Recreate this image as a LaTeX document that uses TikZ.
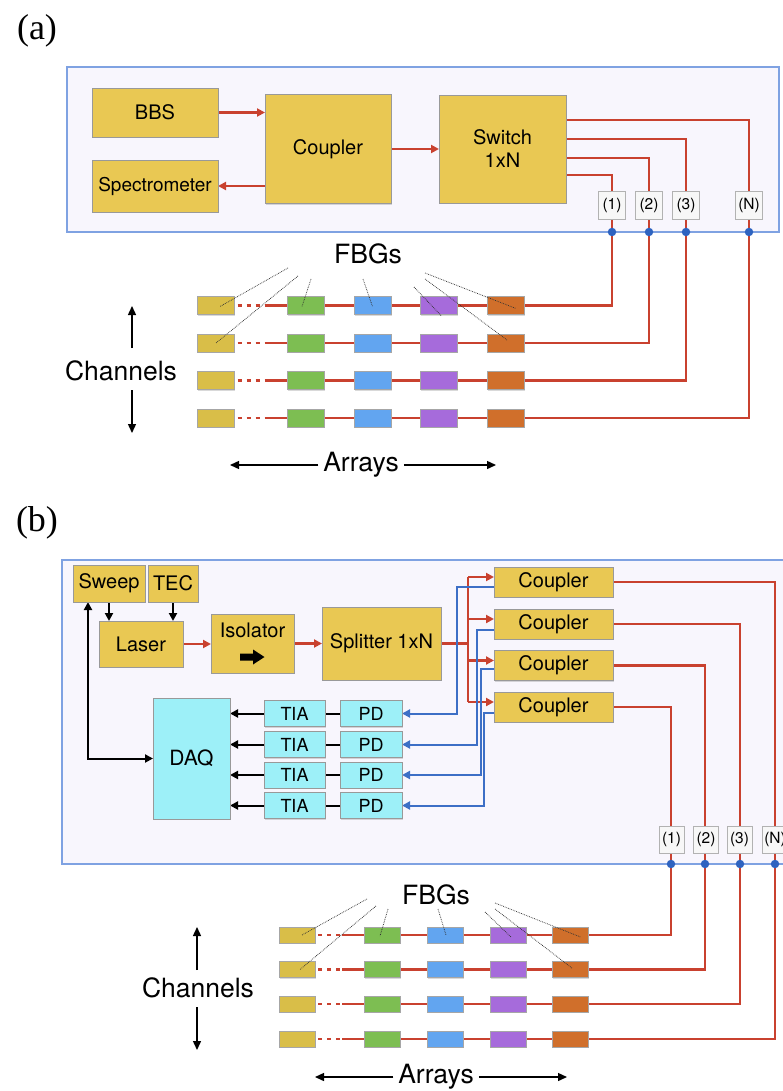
\documentclass[tikz,border=0pt]{standalone}
\usepackage{fontspec}
\setmainfont{TeX Gyre Heros}
\newfontfamily\timesf{Liberation Serif}
\usetikzlibrary{arrows.meta,shadows}
\definecolor{boxy}{HTML}{E9C853}
\definecolor{fy}{HTML}{D9BE48}
\definecolor{fg}{HTML}{7DBE52}
\definecolor{fb}{HTML}{62A5F0}
\definecolor{fp}{HTML}{A66BDB}
\definecolor{fo}{HTML}{D06F2B}
\definecolor{boxc}{HTML}{9DF0F8}
\definecolor{redl}{HTML}{C9412F}
\definecolor{bluel}{HTML}{3D6FC6}
\definecolor{framec}{HTML}{7FA2E2}
\definecolor{framef}{HTML}{F8F6FD}
\definecolor{dotc}{HTML}{2E63C0}
\pgfdeclarelayer{back}
\pgfdeclarelayer{mid}
\pgfsetlayers{back,mid,main}
\begin{document}
\begin{tikzpicture}[x=1pt,y=-1pt,
  every node/.style={inner sep=0pt, outer sep=0pt},
  ybox/.style={draw=black!40, line width=0.5pt, fill=boxy, align=center,
    font=\fontsize{20}{23}\selectfont,
    drop shadow={shadow xshift=1pt,shadow yshift=-1.2pt,opacity=0.3}},
  cbox/.style={ybox, fill=boxc},
  fbg/.style={draw=black!35, line width=0.5pt, minimum width=37pt, minimum height=18pt,
    drop shadow={shadow xshift=0.8pt,shadow yshift=-1pt,opacity=0.3}},
  port/.style={draw=black!30, fill=black!3, line width=0.6pt, font=\fontsize{15.5}{17}\selectfont},
  pdot/.style={circle, fill=dotc, minimum size=8.5pt},
  frm/.style={draw=framec, fill=framef, line width=1.6pt},
  tip/.style={-{Triangle[length=8pt,width=8pt]}},
  rl/.style={draw=redl, line width=2.3pt},
  ra/.style={rl, tip},
  bl/.style={draw=bluel, line width=2pt},
  ba/.style={bl, tip},
  kl/.style={draw=black, line width=2pt},
  ka/.style={kl, tip},
  tarr/.style={draw=black, line width=1.4pt, -{Triangle[length=9pt,width=8pt]}},
  leader/.style={densely dotted, line width=0.75pt, black!80},
  big/.style={font=\fontsize{26.5}{30}\selectfont},
  panel/.style={font=\timesf\fontsize{36}{40}\selectfont}
]
\useasboundingbox (0,0) rectangle (783,1091);
\clip (0,0) rectangle (783,1091);

% ================= panel (a) =================
\node[panel] (la) at (37,31) {(a)};
\begin{pgfonlayer}{back}
\node[frm, minimum width=712pt, minimum height=165pt] (fa) at (423,149.5) {};
\end{pgfonlayer}
\node[ybox, minimum width=126pt, minimum height=49pt] (bbs) at (155,112.5) {BBS};
\node[ybox, minimum width=126pt, minimum height=52pt, font=\fontsize{19}{22}\selectfont] (spec) at (155,186) {Spectrometer};
\node[ybox, minimum width=126pt, minimum height=109pt] (cpl) at (328,149) {Coupler};
\node[ybox, minimum width=127pt, minimum height=108pt] (sw) at (502.5,149) {Switch\\1xN};

\foreach \i/\xx/\tt in {1/612/(1),2/649/(2),3/686/(3),4/749/(N)}{
  \node[port, minimum width=27pt, minimum height=28pt] (ap\i) at (\xx,205) {\tt};
  \node[pdot] (ad\i) at (\xx,232) {};
}

\foreach \r/\yy in {1/305.5,2/343,3/380.5,4/418}{
  \node[fbg, fill=fy] (ay\r) at (216,\yy) {};
  \node[fbg, fill=fg] (ag\r) at (306,\yy) {};
  \node[fbg, fill=fb] (ab\r) at (372.5,\yy) {};
  \node[fbg, fill=fp] (apu\r) at (439,\yy) {};
  \node[fbg, fill=fo] (ao\r) at (506,\yy) {};
  \coordinate (adash\r) at (267,\yy);
}

\begin{pgfonlayer}{mid}
\draw[ra] (bbs.east) -- (bbs.east -| cpl.west);
\draw[ra] (cpl.east) -- (cpl.east -| sw.west);
\draw[ra] (cpl.west |- spec.east) -- (spec.east);
\draw[rl] ([yshift=-26pt]sw.east) -| (ad1.center) |- (ao1.east);
\draw[rl] ([yshift=-9pt]sw.east) -| (ad2.center) |- (ao2.east);
\draw[rl] ([yshift=10pt]sw.east) -| (ad3.center) |- (ao3.east);
\draw[rl] ([yshift=29pt]sw.east) -| (ad4.center) |- (ao4.east);
\foreach \r in {1,2,3,4}{
  \draw[rl, dash pattern=on 4pt off 5pt] ([xshift=3pt]ay\r.east) -- (adash\r);
  \draw[rl] (adash\r) -- (ag\r.west);
  \draw[rl] (ag\r.east) -- (ab\r.west);
  \draw[rl] (ab\r.east) -- (apu\r.west);
  \draw[rl] (apu\r.east) -- (ao\r.west);
}
\end{pgfonlayer}

\node[big] (fbga) at (368,254) {FBGs};
\coordinate (la1) at (288,268);
\coordinate (la2) at (298,276);
\coordinate (la3) at (311,279);
\coordinate (la4) at (363,279);
\coordinate (la5) at (414,287);
\coordinate (la6) at (425,273);
\coordinate (la7) at (425,279);
\draw[leader] (la1) -- ([xshift=4pt,yshift=-1pt]ay1.center);
\draw[leader] (la2) -- (ay2.center);
\draw[leader] (la3) -- ([xshift=-4pt,yshift=-1pt]ag1.center);
\draw[leader] (la4) -- ([yshift=-1pt]ab1.center);
\draw[leader] (la5) -- ([xshift=2pt,yshift=-10pt]apu1.center);
\draw[leader] (la6) -- ([xshift=10pt,yshift=-3pt]ao1.center);
\draw[leader] (la7) -- ([xshift=1pt,yshift=3pt]ao2.center);

\node[big] (cha) at (121,371) {Channels};
\draw[tarr] ([xshift=11pt]cha.center) ++(0,-23) -- ++(0,-42);
\draw[tarr] ([xshift=11pt]cha.center) ++(0,19) -- ++(0,43);
\node[big] (arra) at (361,465) {Arrays};
\draw[tarr] (arra.west) ++(-5,0) -- (230,465);
\draw[tarr] (arra.east) ++(5,0) -- (496,465);

% ================= panel (b) =================
\node[panel] (lb) at (37,523) {(b)};
\begin{pgfonlayer}{back}
\node[frm, minimum width=738pt, minimum height=304pt] (fb) at (431,712) {};
\end{pgfonlayer}
\node[ybox, minimum width=72pt, minimum height=37pt] (swp) at (109,583.5) {Sweep};
\node[ybox, minimum width=50pt, minimum height=37pt] (tec) at (173,583.5) {TEC};
\node[ybox, minimum width=84pt, minimum height=46pt] (las) at (141,644) {Laser};
\node[ybox, minimum width=83pt, minimum height=59pt] (iso) at (252.5,643.5) {};
\node[font=\fontsize{20}{23}\selectfont] (isot) at (252.5,630) {Isolator};
\fill[black] (240,653.5) -- (253,653.5) -- (253,649.5) -- (264.5,657) -- (253,664.5)
  -- (253,660.5) -- (240,660.5) -- cycle;
\node[ybox, minimum width=119pt, minimum height=73pt] (spl) at (381.5,643.5) {Splitter 1xN};
\foreach \i/\yy in {1/582,2/624,3/665.5,4/707}{
  \node[ybox, minimum width=119pt, minimum height=30pt] (c\i) at (553.5,\yy) {Coupler};
  \coordinate (cin\i) at ([yshift=5pt]c\i.west);
}
\node[cbox, minimum width=77pt, minimum height=121pt, font=\fontsize{21}{24}\selectfont] (daq) at (191.5,758.5) {DAQ};
\foreach \i/\yy in {1/713.5,2/744.5,3/775,4/805.5}{
  \node[cbox, minimum width=61pt, minimum height=26pt, font=\fontsize{18}{20}\selectfont] (tia\i) at (294.5,\yy) {TIA};
  \node[cbox, minimum width=62pt, minimum height=26pt, font=\fontsize{18}{20}\selectfont] (pd\i) at (371,\yy) {PD};
}
\coordinate (jx) at (468,643.5);
\coordinate (bv1) at (457,713.5);
\coordinate (bv2) at (477,744.5);
\coordinate (bv3) at (481,775);
\coordinate (bv4) at (484,805.5);

\foreach \i/\xx/\tt in {1/671.5/(1),2/706/(2),3/739.5/(3),4/775/(N)}{
  \node[port, minimum width=25pt, minimum height=27pt] (bp\i) at (\xx,839.5) {\tt};
}
\foreach \i/\xx in {1/671,2/705,3/740,4/775}{
  \node[pdot] (bd\i) at (\xx,864) {};
}
\foreach \r/\yy in {1/935,2/969.5,3/1004,4/1039}{
  \node[fbg, fill=fy, minimum width=36pt, minimum height=16pt] (by\r) at (297,\yy) {};
  \node[fbg, fill=fg, minimum width=36pt, minimum height=16pt] (bg\r) at (382,\yy) {};
  \node[fbg, fill=fb, minimum width=36pt, minimum height=16pt] (bb\r) at (445,\yy) {};
  \node[fbg, fill=fp, minimum width=36pt, minimum height=16pt] (bpu\r) at (508,\yy) {};
  \node[fbg, fill=fo, minimum width=36pt, minimum height=16pt] (bo\r) at (570.5,\yy) {};
  \coordinate (bdash\r) at (342,\yy);
}

\begin{pgfonlayer}{mid}
\draw[ka] (swp.south) -- (swp.south |- las.north);
\draw[ka] (tec.south) -- (tec.south |- las.north);
\draw[kl, {Triangle[length=8pt,width=8pt]}-{Triangle[length=8pt,width=8pt]}]
  ([xshift=-21pt]swp.south) |- (daq.west);
\draw[ra] (las.east) -- (las.east -| iso.west);
\draw[ra] (iso.east) -- (iso.east -| spl.west);
\draw[rl] (spl.east) -- (jx);
\draw[rl] (cin1 -| jx) -- (cin4 -| jx);
\foreach \i in {1,2,3,4}{
  \draw[ra] (cin\i -| jx) -- (cin\i);
  \draw[ka] (tia\i.west) -- (tia\i.west -| daq.east);
  \draw[kl] (tia\i.east) -- (pd\i.west);
}
\draw[ba] ([yshift=-5pt]c1.west) -| (bv1) -- (pd1.east);
\draw[ba] ([yshift=-6pt]c2.west) -| (bv2) -- (pd2.east);
\draw[ba] ([yshift=-3pt]c3.west) -| (bv3) -- (pd3.east);
\draw[ba] ([yshift=-6pt]c4.west) -| (bv4) -- (pd4.east);
\draw[rl] (c1.east) -| (bd4.center) |- (bo4.east);
\draw[rl] (c2.east) -| (bd3.center) |- (bo3.east);
\draw[rl] (c3.east) -| (bd2.center) |- (bo2.east);
\draw[rl] (c4.east) -| (bd1.center) |- (bo1.east);
\foreach \r in {1,2,3,4}{
  \draw[rl, dash pattern=on 4pt off 5pt] ([xshift=3pt]by\r.east) -- (bdash\r);
  \draw[rl] (bdash\r) -- (bg\r.west);
  \draw[rl] (bg\r.east) -- (bb\r.west);
  \draw[rl] (bb\r.east) -- (bpu\r.west);
  \draw[rl] (bpu\r.east) -- (bo\r.west);
}
\end{pgfonlayer}

\node[big] (fbgb) at (436,895) {FBGs};
\coordinate (lb1) at (367,899);
\coordinate (lb2) at (376,906);
\coordinate (lb3) at (388,909);
\coordinate (lb4) at (438,909);
\coordinate (lb5) at (485,912);
\coordinate (lb6) at (495,903);
\coordinate (lb7) at (495,909);
\draw[leader] (lb1) -- ([xshift=5pt]by1.center);
\draw[leader] (lb2) -- ([xshift=3pt]by2.center);
\draw[leader] (lb3) -- ([xshift=-2pt,yshift=-1pt]bg1.center);
\draw[leader] (lb4) -- ([xshift=1pt]bb1.center);
\draw[leader] (lb5) -- ([xshift=3pt,yshift=-2pt]bpu1.center);
\draw[leader] (lb6) -- ([xshift=10pt,yshift=-2pt]bo1.center);
\draw[leader] (lb7) -- ([xshift=2pt,yshift=1pt]bo2.center);

\node[big] (chb) at (198,988) {Channels};
\draw[tarr] ([xshift=-1pt]chb.center) ++(0,-18) -- ++(0,-43);
\draw[tarr] ([xshift=-1pt]chb.center) ++(0,19) -- ++(0,43);
\node[big] (arrb) at (436,1077) {Arrays};
\draw[tarr] (arrb.west) ++(-5,0) -- (315,1077);
\draw[tarr] (arrb.east) ++(5,0) -- (567,1077);
\end{tikzpicture}
\end{document}
